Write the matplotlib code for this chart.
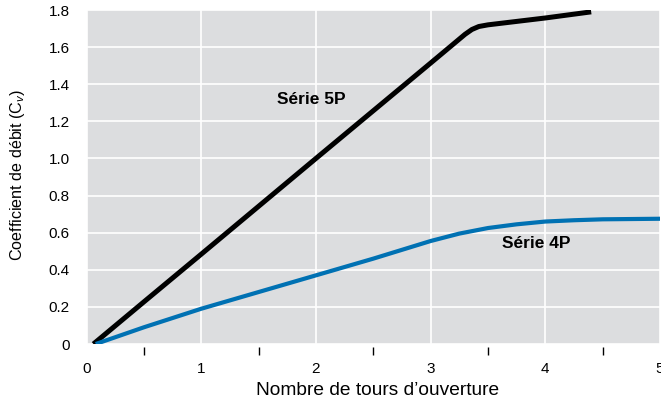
import numpy as np
import matplotlib
matplotlib.use('Agg')
import matplotlib.pyplot as plt
from matplotlib.ticker import FixedLocator

# curve values
x_5p = [0.06, 0.5, 1.0, 1.5, 2.0, 2.5, 3.0, 3.3, 3.36, 3.42, 3.5, 4.0, 4.4]
y_5p = [0.0, 0.227, 0.484, 0.742, 1.0, 1.257, 1.514, 1.669, 1.695, 1.711, 1.72, 1.757, 1.79]
x_4p = [0.08, 0.5, 1.0, 1.5, 2.0, 2.5, 3.0, 3.25, 3.5, 3.75, 4.0, 4.25, 4.5, 5.0]
y_4p = [0.0, 0.09, 0.19, 0.28, 0.37, 0.46, 0.555, 0.595, 0.625, 0.645, 0.66, 0.667, 0.672, 0.675]

x_labels = ['0', '1', '2', '3', '4', '5']
y_labels = ['0', '0.2', '0.4', '0.6', '0.8', '1.0', '1.2', '1.4', '1.6', '1.8']

plt.rcParams['font.family'] = ['Liberation Sans', 'DejaVu Sans']
plt.rcParams['mathtext.fontset'] = 'custom'
plt.rcParams['mathtext.rm'] = 'Liberation Sans'
plt.rcParams['mathtext.it'] = 'Liberation Sans:italic'

fig = plt.figure(figsize=(6.61, 4.05), dpi=100)
ax = fig.add_axes([0.1309, 0.1506, 0.8676, 0.8247])
ax.set_facecolor('#dcdddf')

ax.plot(x_5p, y_5p, color='black', lw=3.6, solid_capstyle='butt', zorder=3)
ax.plot(x_4p, y_4p, color='#0071b3', lw=3.0, solid_capstyle='butt', zorder=3)

ax.text(1.96, 1.32, 'Série 5P', fontsize=12.5, fontweight='bold', ha='center', va='center')
ax.text(3.92, 0.54, 'Série 4P', fontsize=12.5, fontweight='bold', ha='center', va='center')

ax.set_xlim(0, 5)
ax.set_ylim(0, 1.8)

#major ticks carry labels only, minor ticks draw the marks
ax.xaxis.set_major_locator(FixedLocator(range(6)))
ax.set_xticklabels(x_labels)
ax.xaxis.set_minor_locator(FixedLocator(np.arange(0.5, 5, 0.5)))
ax.yaxis.set_major_locator(FixedLocator(np.arange(0, 1.81, 0.2)))
ax.set_yticklabels(y_labels)
ax.yaxis.set_minor_locator(FixedLocator(np.arange(0.2, 1.61, 0.2)))

ax.tick_params(which='major', length=0, labelsize=11, colors='black')
ax.tick_params(axis='x', which='major', pad=10.5)
ax.tick_params(axis='y', which='major', pad=10)
ax.tick_params(which='minor', length=5.5, width=1.0, color='black', direction='out')

for side in ['left', 'bottom']:
    ax.spines[side].set_position(('outward', 2.2))
for s in ax.spines.values():
    s.set_visible(False)

ax.grid(True, which='major', color='white', lw=1.2)
ax.set_axisbelow(True)

ax.set_xlabel('Nombre de tours d\u2019ouverture', fontsize=13.8)
ax.xaxis.set_label_coords(0.507, -0.115)
ax.set_ylabel(r'Coefficient de débit ($\mathrm{C}_{v}$)', fontsize=11.6)
ax.yaxis.set_label_coords(-0.104, 0.505)

fig.savefig('out.png', dpi=100)
